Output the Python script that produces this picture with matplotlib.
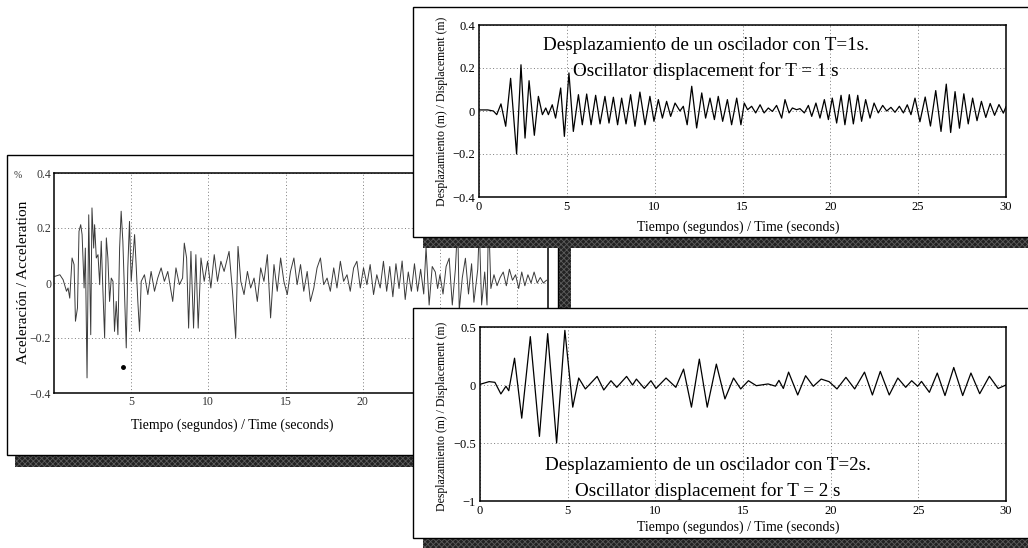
import matplotlib.pyplot as plt
from matplotlib.patches import Rectangle

plt.rcParams['font.family'] = ['Liberation Serif', 'DejaVu Serif']
plt.rcParams['hatch.linewidth'] = 0.6

# --- data ----------------------------------------------------------------
# ground acceleration (left panel)
acc_t = [0.05, 0.38, 0.59, 0.81, 0.91, 1.02, 1.17, 1.30, 1.39, 1.52, 1.62, 1.73,
         1.82, 1.95, 2.03, 2.14, 2.25, 2.38, 2.46, 2.57, 2.63, 2.74, 2.85, 2.96,
         3.06, 3.17, 3.28, 3.39, 3.49, 3.60, 3.71, 3.82, 3.92, 4.03, 4.14, 4.25,
         4.35, 4.46, 4.57, 4.68, 4.78, 4.89, 5.00, 5.11, 5.22, 5.32, 5.43, 5.54,
         5.65, 5.86, 6.08, 6.29, 6.51, 6.72, 6.94, 7.15, 7.37, 7.69, 7.90, 8.12,
         8.33, 8.44, 8.59, 8.72, 8.87, 9.04, 9.19, 9.34, 9.52, 9.73, 9.95, 10.16,
         10.38, 10.59, 10.81, 11.02, 11.34, 11.56, 11.77, 11.92, 12.10, 12.31, 12.53,
         12.74, 12.96, 13.17, 13.39, 13.60, 13.82, 14.03, 14.25, 14.46, 14.68, 14.89,
         15.11, 15.32, 15.54, 15.75, 15.97, 16.18, 16.40, 16.61, 16.83, 17.04, 17.26,
         17.47, 17.69, 17.90, 18.12, 18.33, 18.55, 18.76, 18.98, 19.19, 19.41, 19.62,
         19.84, 20.05, 20.27, 20.48, 20.70, 20.91, 21.13, 21.34, 21.55, 21.75, 21.95,
         22.15, 22.35, 22.55, 22.75, 22.95, 23.15, 23.35, 23.55, 23.75, 23.95, 24.10,
         24.30, 24.50, 24.70, 24.85, 25.00, 25.20, 25.40, 25.60, 25.80, 26.00, 26.15,
         26.25, 26.45, 26.65, 26.85, 27.05, 27.20, 27.45, 27.55, 27.70, 27.90, 28.05,
         28.15, 28.30, 28.50, 28.70, 28.90, 29.10, 29.30, 29.50, 29.70, 29.90, 30.10,
         30.30, 30.50, 30.70, 30.90, 31.10, 31.30, 31.50, 31.70, 31.90]
acc_v = [0.024, 0.030, 0.012, -0.030, -0.018, -0.055, 0.091, 0.067, -0.139, -0.091,
         0.188, 0.212, 0.176, -0.018, 0.127, -0.345, 0.248, -0.188, 0.273, 0.127,
         0.212, 0.091, 0.103, -0.006, 0.152, -0.030, -0.200, 0.164, 0.091, -0.067,
         0.018, 0.006, -0.176, -0.067, -0.188, 0.127, 0.261, 0.152, -0.042, -0.236,
         0.055, 0.224, 0.006, 0.091, 0.176, 0.067, -0.067, -0.176, 0.006, 0.030,
         -0.042, 0.042, -0.030, 0.018, 0.055, 0.006, 0.042, -0.067, 0.055, -0.006,
         0.018, 0.145, 0.091, -0.164, 0.115, -0.164, 0.103, -0.164, 0.091, 0.006,
         0.079, -0.018, 0.103, 0.006, 0.079, 0.042, 0.115, -0.030, -0.200, 0.133,
         0.006, -0.042, 0.042, -0.018, 0.018, -0.067, 0.055, 0.006, 0.103, -0.127,
         0.067, -0.030, 0.091, 0.006, -0.042, 0.042, 0.091, -0.006, 0.067, -0.030,
         0.042, -0.067, -0.018, 0.055, 0.091, -0.006, 0.018, -0.030, 0.055, -0.018,
         0.079, 0.006, 0.030, -0.030, 0.055, 0.079, -0.018, 0.055, -0.006, 0.067,
         -0.042, 0.030, -0.018, 0.079, -0.030, 0.060, -0.050, 0.070, -0.020, 0.080,
         -0.060, 0.040, -0.030, 0.070, -0.030, 0.050, -0.040, 0.130, -0.080, 0.060,
         0.040, -0.020, 0.030, -0.040, 0.060, 0.090, -0.080, 0.050, 0.220, -0.100,
         0.020, 0.090, -0.040, 0.070, -0.070, 0.050, 0.200, -0.080, 0.040, -0.080,
         0.250, -0.020, 0.030, -0.010, 0.020, 0.040, -0.010, 0.050, 0.010, 0.030,
         -0.020, 0.040, -0.010, 0.030, 0.000, 0.040, 0.000, 0.020, 0.000, 0.010]
stray_t = [4.44]
stray_v = [-0.305]

# oscillator T = 1 s
t1 = [0.0, 0.5, 0.82, 1.01, 1.25, 1.52, 1.80, 2.14, 2.39, 2.62, 2.85, 3.15, 3.38,
      3.61, 3.80, 3.95, 4.17, 4.36, 4.65, 4.86, 5.12, 5.37, 5.66, 5.88, 6.13, 6.38,
      6.64, 6.89, 7.17, 7.40, 7.65, 7.89, 8.12, 8.37, 8.63, 8.88, 9.16, 9.45, 9.73,
      9.96, 10.21, 10.44, 10.68, 10.91, 11.16, 11.44, 11.63, 11.85, 12.11, 12.39,
      12.68, 12.90, 13.15, 13.40, 13.62, 13.87, 14.14, 14.38, 14.67, 14.91, 15.10,
      15.29, 15.52, 15.75, 16.00, 16.23, 16.47, 16.70, 16.94, 17.23, 17.42, 17.65,
      17.84, 18.08, 18.27, 18.52, 18.75, 18.94, 19.18, 19.41, 19.66, 19.89, 20.11,
      20.36, 20.61, 20.83, 21.08, 21.31, 21.56, 21.78, 22.01, 22.26, 22.49, 22.73,
      22.98, 23.21, 23.45, 23.68, 23.93, 24.16, 24.38, 24.59, 24.82, 25.10, 25.40,
      25.70, 26.00, 26.30, 26.60, 26.85, 27.10, 27.35, 27.60, 27.85, 28.10, 28.35,
      28.60, 28.85, 29.10, 29.35, 29.60, 29.85, 30.0]
d1 = [0.005, 0.005, 0.0, -0.017, 0.033, -0.071, 0.152, -0.200, 0.215, -0.126, 0.141,
      -0.113, 0.068, -0.017, 0.014, -0.017, 0.029, -0.033, 0.107, -0.118, 0.177,
      -0.095, 0.076, -0.064, 0.079, -0.064, 0.073, -0.060, 0.068, -0.056, 0.064,
      -0.064, 0.060, -0.060, 0.076, -0.071, 0.088, -0.064, 0.068, -0.048, 0.053,
      -0.033, 0.045, -0.025, 0.037, 0.000, 0.022, -0.064, 0.115, -0.079, 0.084,
      -0.033, 0.060, -0.040, 0.068, -0.048, 0.053, -0.064, 0.060, -0.064, 0.037,
      0.006, 0.022, -0.009, 0.029, -0.009, 0.014, -0.002, 0.026, -0.033, 0.053,
      -0.009, 0.014, 0.006, 0.011, -0.009, 0.026, -0.025, 0.037, -0.033, 0.053,
      -0.040, 0.060, -0.056, 0.073, -0.064, 0.076, -0.060, 0.073, -0.048, 0.053,
      -0.033, 0.037, -0.009, 0.026, 0.000, 0.017, -0.006, 0.022, -0.009, 0.029,
      -0.017, 0.060, -0.050, 0.065, -0.070, 0.095, -0.095, 0.125, -0.100, 0.090,
      -0.080, 0.080, -0.060, 0.060, -0.045, 0.045, -0.030, 0.035, -0.020, 0.030,
      -0.010, 0.020]

# oscillator T = 2 s
t2 = [0.0, 0.07, 0.52, 0.85, 1.19, 1.48, 1.64, 1.97, 2.38, 2.87, 3.39, 3.86, 4.37,
      4.84, 5.29, 5.63, 6.01, 6.68, 7.06, 7.47, 7.80, 8.36, 8.70, 8.92, 9.37, 9.75,
      10.04, 10.61, 11.17, 11.61, 12.06, 12.51, 12.96, 13.48, 13.97, 14.46, 14.87,
      15.31, 15.76, 16.43, 16.85, 17.05, 17.30, 17.60, 18.12, 18.57, 19.01, 19.46,
      19.91, 20.36, 20.87, 21.37, 21.93, 22.38, 22.83, 23.34, 23.83, 24.28, 24.62,
      24.96, 25.18, 25.63, 26.08, 26.52, 27.02, 27.53, 28.00, 28.50, 29.05, 29.55,
      30.0]
d2 = [0.005, 0.009, 0.029, 0.023, -0.077, -0.011, -0.049, 0.231, -0.286, 0.417,
      -0.443, 0.443, -0.500, 0.471, -0.191, 0.060, -0.034, 0.074, -0.043, 0.037,
      -0.020, 0.074, 0.000, 0.051, -0.029, 0.037, -0.029, 0.060, -0.020, 0.137,
      -0.191, 0.223, -0.191, 0.180, -0.120, 0.060, -0.034, 0.037, -0.006, 0.009,
      -0.010, 0.040, -0.030, 0.111, -0.086, 0.080, -0.011, 0.051, 0.029, -0.034,
      0.066, -0.034, 0.111, -0.086, 0.117, -0.086, 0.060, -0.020, 0.037, -0.011,
      0.031, -0.063, 0.103, -0.091, 0.151, -0.091, 0.103, -0.075, 0.075, -0.030,
      0.000]

acc_yticks = [-0.4, -0.2, 0, 0.2, 0.4]
acc_yticklabels = ['\u22120.4', '\u22120.2', '0', '0.2', '0.4']
acc_xticks = [5, 10, 15, 20, 25, 30]
acc_xticklabels = ['5', '10', '15', '20', '', '']   # 25 and 30 sit under the other panels
d1_yticks = [-0.4, -0.2, 0, 0.2, 0.4]
d1_yticklabels = ['\u22120.4', '\u22120.2', '0', '0.2', '0.4']
d2_yticks = [-1, -0.5, 0, 0.5]
d2_yticklabels = ['\u22121', '\u22120.5', '0', '0.5']
disp_xticks = [0, 5, 10, 15, 20, 25, 30]

xlab = 'Tiempo (segundos) / Time (seconds)'
ylab_disp = 'Desplazamiento (m) / Displacement (m)'

# --- layout helpers (pixel boxes on a 1028x548 canvas) --------------------
W, H = 1028, 548
fig = plt.figure(figsize=(W / 100, H / 100), dpi=100)


def box(x0, y0, x1, y1):
    return [x0 / W, 1 - y1 / H, (x1 - x0) / W, (y1 - y0) / H]


def rect(x0, y0, x1, y1, z, shadow=False):
    if shadow:
        r = Rectangle((x0 / W, 1 - y1 / H), (x1 - x0) / W, (y1 - y0) / H,
                      transform=fig.transFigure, facecolor='#222222',
                      edgecolor='#5c5c5c', hatch='xxxxxx', lw=0, zorder=z)
    else:
        r = Rectangle((x0 / W, 1 - y1 / H), (x1 - x0) / W, (y1 - y0) / H,
                      transform=fig.transFigure, facecolor='white',
                      edgecolor='black', lw=1.0, zorder=z)
    fig.add_artist(r)


def text(x, y, s, z, **kw):
    fig.text(x / W, 1 - y / H, s, zorder=z, ha='center', va='center', **kw)


def style(ax, z):
    ax.set_zorder(z)
    for sp in ax.spines.values():
        sp.set_linewidth(1.1)
    ax.tick_params(length=0, labelsize=9, pad=3)
    ax.grid(True, linestyle=(0, (1, 2.5)), color='#7a7a7a', linewidth=0.7)
    ax.set_axisbelow(True)


# --- left panel: acceleration ----------------------------------------------
rect(15, 455, 571, 467, 1, shadow=True)
rect(558, 163, 571, 467, 1, shadow=True)
rect(7, 155, 558, 455, 2)
ax0 = fig.add_axes(box(54, 173, 548, 393))
style(ax0, 3)
ax0.plot(acc_t, acc_v, color='#3a3a3a', lw=0.7)
ax0.plot(stray_t, stray_v, 'o', color='black', ms=2.5)
ax0.set_xlim(0, 32)
ax0.set_ylim(-0.4, 0.4)
ax0.set_xticks(acc_xticks)
ax0.set_xticklabels(acc_xticklabels)
ax0.set_yticks(acc_yticks)
ax0.set_yticklabels(acc_yticklabels)
ax0.tick_params(labelcolor='#333333', labelsize=8.5, pad=2)
text(232, 425, xlab, 3.5, fontsize=10)
text(24, 282, 'Aceleración / Acceleration', 3.5, fontsize=11, rotation=90)
text(18, 175, '%', 3.5, fontsize=7, color='#333333')

# --- top right panel: T = 1 s -------------------------------------------
rect(423, 237, 1028, 248, 4, shadow=True)
rect(413, 7, 1040, 237, 5)
ax1 = fig.add_axes(box(479, 25, 1006, 197))
style(ax1, 6)
ax1.plot(t1, d1, color='black', lw=0.9, solid_joinstyle='round')
ax1.set_xlim(0, 30)
ax1.set_ylim(-0.4, 0.4)
ax1.set_xticks(disp_xticks)
ax1.set_yticks(d1_yticks)
ax1.set_yticklabels(d1_yticklabels)
text(738, 227, xlab, 6.5, fontsize=10)
text(442, 111, ylab_disp, 6.5, fontsize=8.5, rotation=90)
text(706, 45, 'Desplazamiento de un oscilador con T=1s.', 6.5, fontsize=13.8)
text(706, 71, 'Oscillator displacement for T = 1 s', 6.5, fontsize=13.8)

# --- bottom right panel: T = 2 s ----------------------------------------
rect(423, 538, 1028, 548, 7, shadow=True)
rect(413, 308, 1040, 538, 8)
ax2 = fig.add_axes(box(480, 327, 1006, 501))
style(ax2, 9)
ax2.plot(t2, d2, color='black', lw=0.9, solid_joinstyle='round')
ax2.set_xlim(0, 30)
ax2.set_ylim(-1, 0.5)
ax2.set_xticks(disp_xticks)
ax2.set_yticks(d2_yticks)
ax2.set_yticklabels(d2_yticklabels)
text(738, 527, xlab, 9.5, fontsize=10)
text(442, 416, ylab_disp, 9.5, fontsize=8.5, rotation=90)
text(708, 466, 'Desplazamiento de un oscilador con T=2s.', 9.5, fontsize=13.8)
text(708, 491, 'Oscillator displacement for T = 2 s', 9.5, fontsize=13.8)

fig.savefig('out.png', dpi=100, facecolor='white')
